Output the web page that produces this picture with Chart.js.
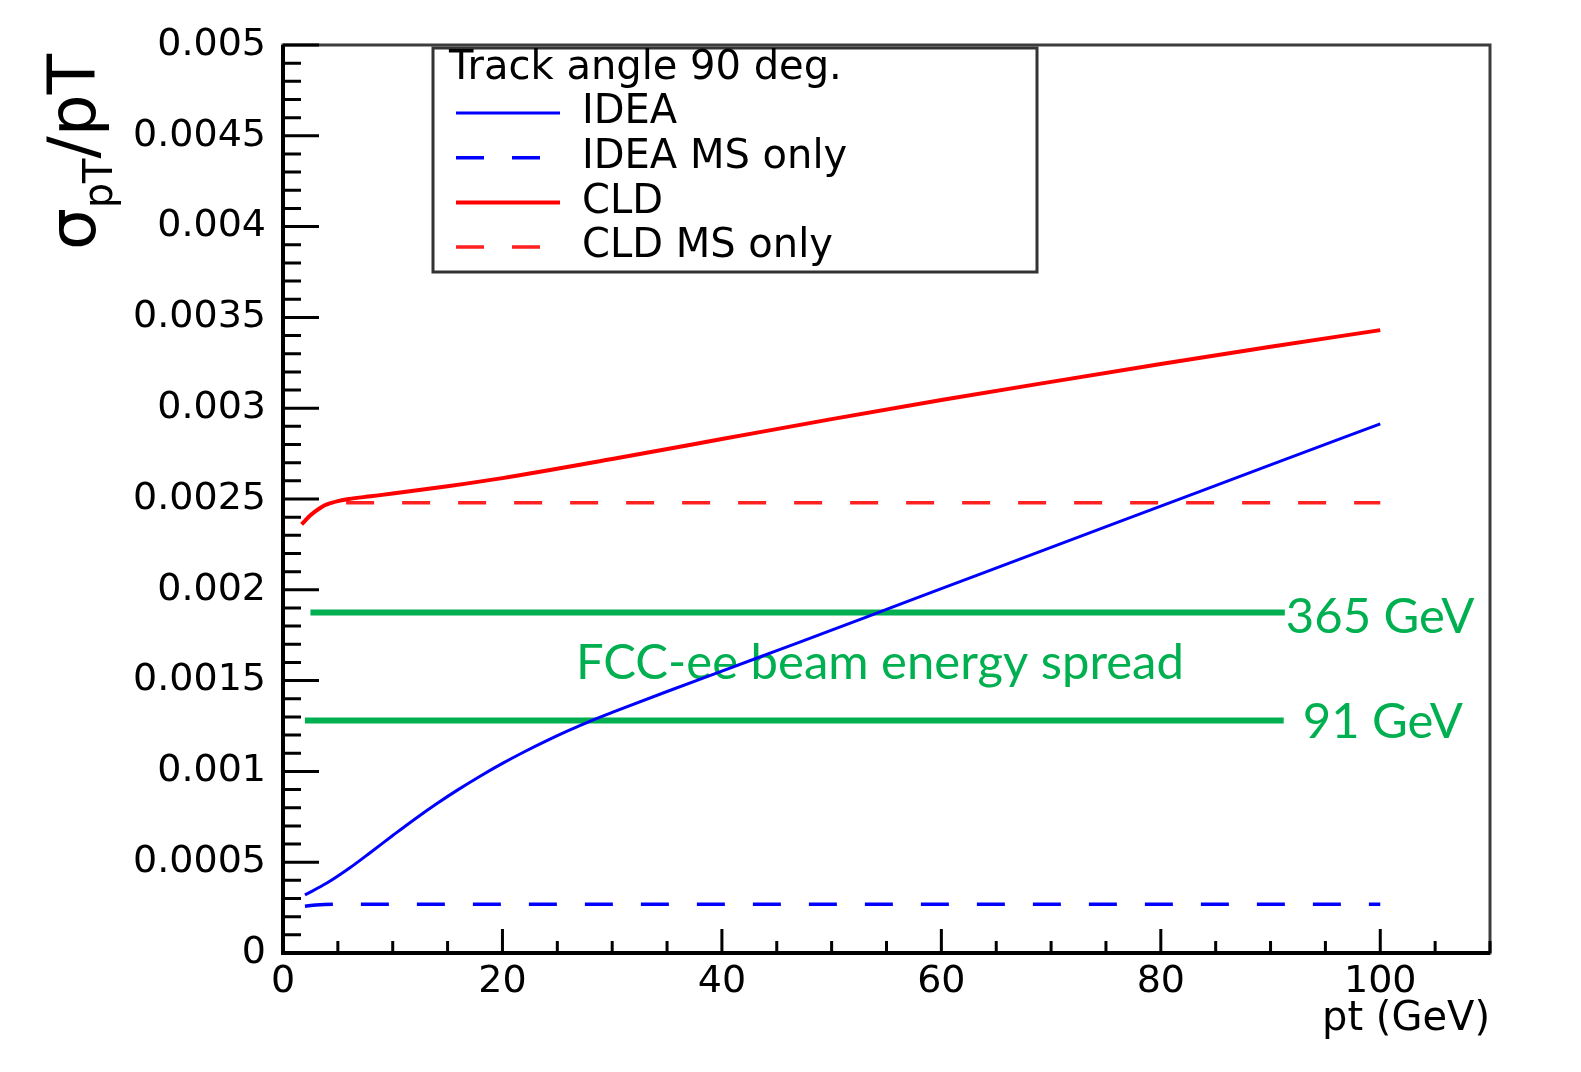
<!DOCTYPE html>
<html>
<head>
<meta charset="utf-8">
<title>sigma(pT)/pT vs pt</title>
<script src="https://cdn.jsdelivr.net/npm/chart.js@4.4.1/dist/chart.umd.min.js"></script>
<style>
  html, body { margin: 0; padding: 0; background: #fff; }
  #wrap { width: 1581px; height: 1072px; }
</style>
</head>
<body>
<div id="wrap"><canvas id="resChart" width="1581" height="1072"></canvas></div>
<script>
// pt (GeV) and sigma(pT)/pT
const ideaPt  = [2, 4, 6, 8, 10, 12, 14, 16, 18, 20, 22, 24, 26, 28, 30, 35, 40, 45, 50, 55, 60, 70, 80, 90, 100];
const ideaRes = [0.00032, 0.000385, 0.000465, 0.000555, 0.000647, 0.000737, 0.000822, 0.000901, 0.000975, 0.001044,
                 0.001108, 0.001168, 0.001224, 0.001277, 0.001325, 0.00144, 0.001552, 0.001665, 0.001778, 0.001892,
                 0.002006, 0.002234, 0.002461, 0.002688, 0.002914];

const cldPt  = [1.7, 2, 2.5, 3, 3.5, 4, 5, 6, 8, 10, 15, 20, 30, 40, 50, 60, 70, 80, 90, 100];
const cldRes = [0.00236, 0.00238, 0.00241, 0.002435, 0.002455, 0.00247, 0.002488, 0.0025, 0.002515, 0.00253,
                0.00257, 0.002615, 0.00272, 0.00283, 0.00294, 0.003045, 0.003145, 0.003243, 0.003338, 0.00343];

const ideaMsPt  = [2, 3, 5, 10, 20, 40, 60, 80, 100];
const ideaMsRes = [0.000258, 0.000264, 0.000268, 0.000268, 0.000268, 0.000268, 0.000268, 0.000268, 0.000268];

const cldMsPt  = [3.2, 5, 10, 20, 40, 60, 80, 100];
const cldMsRes = [0.00248, 0.00248, 0.00248, 0.00248, 0.00248, 0.00248, 0.00248, 0.00248];

// FCC-ee beam energy spread
const beamNames   = ['365 GeV', '91 GeV'];
const beamSpread  = [0.001875, 0.00128];
const beamPtStart = [2.5, 2.0];
const beamPtEnd   = [91.3, 91.2];

const xTickValues = [0, 20, 40, 60, 80, 100];
const xTickLabels = ['0', '20', '40', '60', '80', '100'];
const yTickValues = [0, 0.0005, 0.001, 0.0015, 0.002, 0.0025, 0.003, 0.0035, 0.004, 0.0045, 0.005];
const yTickLabels = ['0', '0.0005', '0.001', '0.0015', '0.002', '0.0025', '0.003', '0.0035', '0.004', '0.0045', '0.005'];

const legendTitle = 'Track angle 90 deg.';
const spreadText = 'FCC-ee beam energy spread';

const FONT = 'DejaVu Sans';
const GREEN = '#00B050';

const pts = (xs, ys) => xs.map((x, i) => ({ x: x, y: ys[i] }));

const curve = (label, xs, ys, color, width, dash, dashOffset) => ({
    label: label,
    data: pts(xs, ys),
    borderColor: color,
    borderWidth: width,
    borderDash: dash || [],
    borderDashOffset: dashOffset || 0,
    pointRadius: 0,
    fill: false,
    cubicInterpolationMode: 'monotone'
});

const datasets = [
    curve('IDEA', ideaPt, ideaRes, '#0000ff', 3),
    curve('IDEA MS only', ideaMsPt, ideaMsRes, '#0000ff', 3.5, [28, 28]),
    curve('CLD', cldPt, cldRes, '#ff0000', 4),
    curve('CLD MS only', cldMsPt, cldMsRes, '#ff2020', 3.5, [28, 28], 28)
];
beamSpread.forEach((v, i) => {
    datasets.push({
        label: beamNames[i],
        data: [{ x: beamPtStart[i], y: v }, { x: beamPtEnd[i], y: v }],
        borderColor: GREEN,
        borderWidth: 6,
        pointRadius: 0,
        fill: false,
        beamLine: true
    });
});

// ROOT-like frame, inward ticks, legend box and axis titles
const rootStyle = {
    id: 'rootStyle',
    beforeDatasetsDraw(chart) {
        const { ctx, scales: { x, y } } = chart;
        ctx.save();
        ctx.fillStyle = GREEN;
        ctx.font = '49px Lato';
        ctx.textBaseline = 'alphabetic';
        ctx.textAlign = 'left';
        const y365 = y.getPixelForValue(beamSpread[0]);
        const y91 = y.getPixelForValue(beamSpread[1]);
        ctx.fillText(beamNames[0], x.getPixelForValue(beamPtEnd[0]) + 1, y365 + 20);
        ctx.fillText(beamNames[1], x.getPixelForValue(beamPtEnd[1]) + 19, y91 + 17);
        ctx.textAlign = 'center';
        ctx.fillText(spreadText, x.getPixelForValue(54.4), (y365 + y91) / 2 + 12);
        ctx.restore();
    },
    afterDatasetsDraw(chart) {
        const { ctx, chartArea: a, scales: { x, y } } = chart;
        ctx.save();

        // frame
        ctx.strokeStyle = '#3c3c3c';
        ctx.lineWidth = 3;
        ctx.strokeRect(a.left, a.top, a.right - a.left, a.bottom - a.top);
        ctx.strokeStyle = '#000';
        ctx.lineWidth = 4;
        ctx.beginPath();
        ctx.moveTo(a.left, a.top);
        ctx.lineTo(a.left, a.bottom);
        ctx.lineTo(a.right, a.bottom);
        ctx.stroke();

        // ticks pointing inwards
        ctx.lineWidth = 3;
        ctx.beginPath();
        for (let i = 0; i <= 50; i++) {
            const py = y.getPixelForValue(i * 0.0001);
            ctx.moveTo(a.left, py);
            ctx.lineTo(a.left + (i % 5 === 0 ? 36 : 18), py);
        }
        for (let i = 0; i <= 22; i++) {
            const px = x.getPixelForValue(i * 5);
            ctx.moveTo(px, a.bottom);
            ctx.lineTo(px, a.bottom - (i % 4 === 0 ? 24 : 12));
        }
        ctx.stroke();

        // legend box
        const lx = 433, ly = 48, lw = 604, lh = 224;
        ctx.fillStyle = '#fff';
        ctx.fillRect(lx, ly, lw, lh);
        ctx.strokeStyle = '#333';
        ctx.lineWidth = 3;
        ctx.strokeRect(lx, ly, lw, lh);
        ctx.fillStyle = '#000';
        ctx.font = '40px ' + FONT;
        ctx.textBaseline = 'middle';
        ctx.textAlign = 'left';
        ctx.fillText(legendTitle, 449, 69);
        chart.data.datasets.filter(d => !d.beamLine).forEach((d, i) => {
            const ry = 113 + 44.7 * i;
            ctx.strokeStyle = d.borderColor;
            ctx.lineWidth = d.borderWidth;
            ctx.setLineDash(d.borderDash);
            ctx.beginPath();
            ctx.moveTo(456, ry);
            ctx.lineTo(560, ry);
            ctx.stroke();
            ctx.setLineDash([]);
            ctx.fillText(d.label, 582, ry);
        });

        // x axis title
        ctx.textAlign = 'right';
        ctx.fillText('pt (GeV)', a.right, 1020);

        // y axis title, rotated, right-aligned to the top of the axis
        ctx.translate(95, 54);
        ctx.rotate(-Math.PI / 2);
        ctx.textBaseline = 'alphabetic';
        ctx.textAlign = 'left';
        const big = '66px ' + FONT, small = '40px ' + FONT;
        ctx.font = big;
        const wSigma = ctx.measureText('\u03c3').width;
        const wTail = ctx.measureText('/pT').width;
        ctx.font = small;
        const wSub = ctx.measureText('pT').width;
        let cx = -(wSigma + wSub + wTail);
        ctx.font = big;
        ctx.fillText('\u03c3', cx, 0);
        cx += wSigma;
        ctx.font = small;
        ctx.fillText('pT', cx, 17);
        cx += wSub;
        ctx.font = big;
        ctx.fillText('/pT', cx, 0);

        ctx.restore();
    }
};

new Chart(document.getElementById('resChart'), {
    type: 'line',
    data: { datasets: datasets },
    options: {
        responsive: false,
        animation: false,
        layout: { padding: { left: 0, top: 45, right: 91, bottom: 0 } },
        plugins: {
            legend: { display: false },
            tooltip: { enabled: false }
        },
        scales: {
            x: {
                type: 'linear',
                min: 0,
                max: 110,
                grid: { display: false, drawTicks: false },
                border: { display: false },
                afterBuildTicks: s => { s.ticks = xTickValues.map(v => ({ value: v })); },
                afterFit: s => { s.height = 119; },
                ticks: {
                    autoSkip: false,
                    maxRotation: 0,
                    padding: 6,
                    color: '#000',
                    font: { family: FONT, size: 38 },
                    callback: (v, i) => xTickLabels[i]
                }
            },
            y: {
                type: 'linear',
                min: 0,
                max: 0.005,
                grid: { display: false, drawTicks: false },
                border: { display: false },
                afterBuildTicks: s => { s.ticks = yTickValues.map(v => ({ value: v })); },
                afterFit: s => { s.width = 283; },
                ticks: {
                    autoSkip: false,
                    padding: 17,
                    color: '#000',
                    font: { family: FONT, size: 38 },
                    callback: (v, i) => yTickLabels[i]
                }
            }
        }
    },
    plugins: [rootStyle]
});
</script>
</body>
</html>
